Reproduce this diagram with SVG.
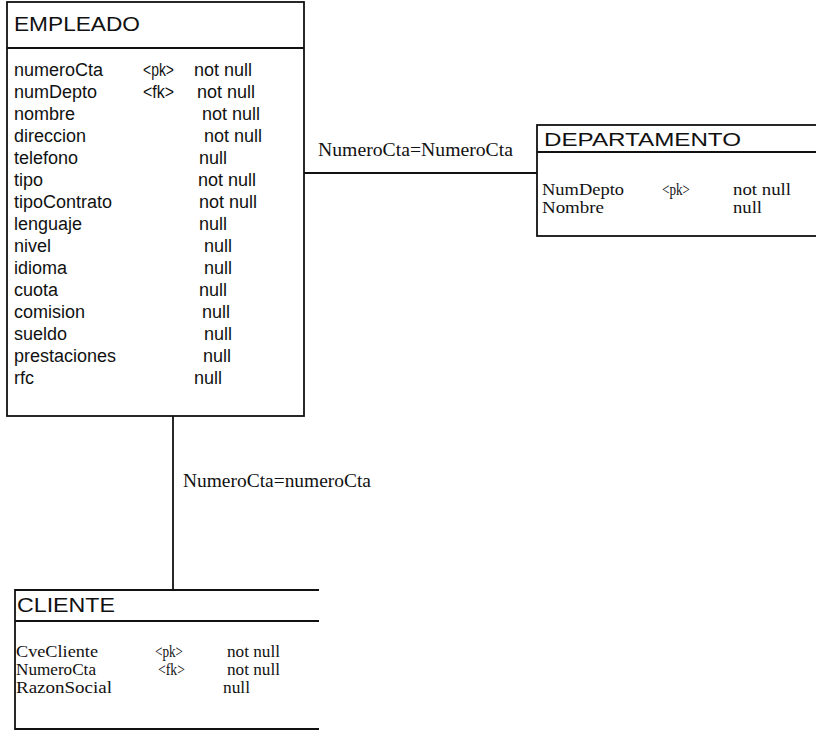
<svg xmlns="http://www.w3.org/2000/svg" width="816" height="732" viewBox="0 0 816 732">
<style>
.box{fill:none;stroke:#111;stroke-width:1.8}
.ln{fill:none;stroke:#111;stroke-width:1.8}
.t{font-family:"Liberation Sans",Arial,sans-serif;fill:#111}
.h{font-size:20px}
.a{font-size:18px}
.s{font-family:"Liberation Serif","Times New Roman",serif;fill:#111;font-size:18px}
.sc{font-family:"Liberation Serif","Times New Roman",serif;fill:#111;font-size:16px}
</style>
<rect width="816" height="732" fill="#fff"/>
<g id="connectors">
<line class="ln" x1="304" y1="173" x2="537" y2="173"/>
<line class="ln" x1="173" y1="416" x2="173" y2="590"/>
<text class="s" x="318" y="156" textLength="195" lengthAdjust="spacingAndGlyphs">NumeroCta=NumeroCta</text>
<text class="s" x="183" y="487" textLength="188" lengthAdjust="spacingAndGlyphs">NumeroCta=numeroCta</text>
</g>
<g id="empleado">
<rect class="box" x="7" y="2" width="297" height="414"/>
<line class="ln" x1="7" y1="48" x2="304" y2="48"/>
<text class="t h" x="14" y="31" textLength="126" lengthAdjust="spacingAndGlyphs">EMPLEADO</text>
<g class="t a">
<text x="14" y="76">numeroCta</text><text x="143" y="76" textLength="31" lengthAdjust="spacingAndGlyphs">&lt;pk&gt;</text><text x="194" y="76">not null</text>
<text x="14" y="98">numDepto</text><text x="143" y="98" textLength="31" lengthAdjust="spacingAndGlyphs">&lt;fk&gt;</text><text x="197" y="98">not null</text>
<text x="14" y="120">nombre</text><text x="202" y="120">not null</text>
<text x="14" y="142">direccion</text><text x="204" y="142">not null</text>
<text x="14" y="164">telefono</text><text x="199" y="164">null</text>
<text x="14" y="186">tipo</text><text x="198" y="186">not null</text>
<text x="14" y="208">tipoContrato</text><text x="199" y="208">not null</text>
<text x="14" y="230">lenguaje</text><text x="199" y="230">null</text>
<text x="14" y="252">nivel</text><text x="204" y="252">null</text>
<text x="14" y="274">idioma</text><text x="204" y="274">null</text>
<text x="14" y="296">cuota</text><text x="199" y="296">null</text>
<text x="14" y="318">comision</text><text x="202" y="318">null</text>
<text x="14" y="340">sueldo</text><text x="204" y="340">null</text>
<text x="14" y="362">prestaciones</text><text x="203" y="362">null</text>
<text x="14" y="384">rfc</text><text x="194" y="384">null</text>
</g>
</g>
<g id="departamento">
<rect class="box" x="537" y="125" width="282" height="111"/>
<line class="ln" x1="537" y1="152" x2="816" y2="152"/>
<text class="t" style="font-size:18px" x="544" y="146" textLength="197" lengthAdjust="spacingAndGlyphs">DEPARTAMENTO</text>
<g class="sc">
<text x="542" y="195" textLength="82" lengthAdjust="spacingAndGlyphs">NumDepto</text><text x="662" y="195" textLength="28" lengthAdjust="spacingAndGlyphs">&lt;pk&gt;</text><text x="733" y="195" textLength="58" lengthAdjust="spacingAndGlyphs">not null</text>
<text x="542" y="213" textLength="62" lengthAdjust="spacingAndGlyphs">Nombre</text><text x="733" y="213" textLength="29" lengthAdjust="spacingAndGlyphs">null</text>
</g>
</g>
<g id="cliente">
<path class="box" d="M319,590 H15 V729 H319"/>
<line class="ln" x1="15" y1="621" x2="319" y2="621"/>
<text class="t h" x="17" y="612" textLength="98" lengthAdjust="spacingAndGlyphs">CLIENTE</text>
<g class="sc">
<text x="16" y="657" textLength="82" lengthAdjust="spacingAndGlyphs">CveCliente</text><text x="155" y="657" textLength="28" lengthAdjust="spacingAndGlyphs">&lt;pk&gt;</text><text x="227" y="657" textLength="53" lengthAdjust="spacingAndGlyphs">not null</text>
<text x="16" y="675" textLength="80" lengthAdjust="spacingAndGlyphs">NumeroCta</text><text x="158" y="675" textLength="27" lengthAdjust="spacingAndGlyphs">&lt;fk&gt;</text><text x="227" y="675" textLength="53" lengthAdjust="spacingAndGlyphs">not null</text>
<text x="16" y="693" textLength="96" lengthAdjust="spacingAndGlyphs">RazonSocial</text><text x="223" y="693" textLength="27" lengthAdjust="spacingAndGlyphs">null</text>
</g>
</g>
</svg>
